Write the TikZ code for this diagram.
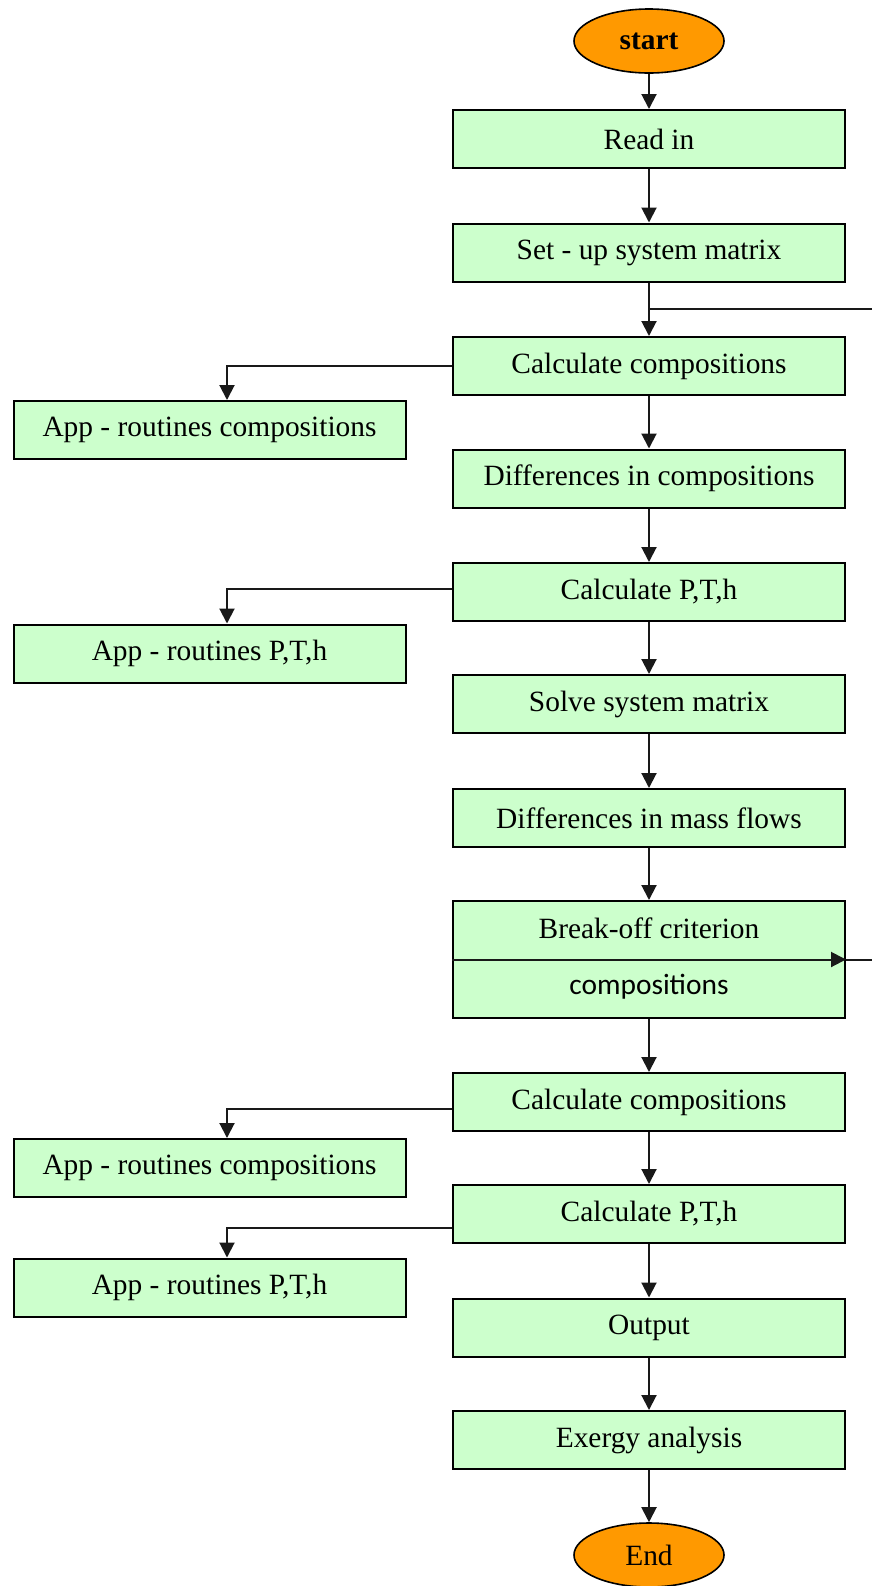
\documentclass[tikz,border=0pt]{standalone}
\usepackage{fontspec}
\setmainfont{Liberation Serif}
\newfontfamily\capfont{Carlito}
\usetikzlibrary{arrows.meta, shapes.geometric, positioning}

\definecolor{boxgreen}{HTML}{CCFFCC}
\definecolor{termorange}{HTML}{FF9900}

\begin{document}
\begin{tikzpicture}[x=0.5pt, y=-0.5pt,
    every node/.style={font=\fontsize{14.7}{17}\selectfont},
    proc/.style={draw=black, fill=boxgreen, line width=1pt, minimum width=196pt, minimum height=29pt, inner sep=0pt},
    term/.style={draw=black, fill=termorange, ellipse, line width=0.8pt, minimum width=75pt, minimum height=32pt, inner sep=0pt},
    flow/.style={-{Triangle[width=7.5pt, length=7.5pt]}, line width=1pt, draw=black!90},
    plain/.style={line width=1pt, draw=black!90}]
    \useasboundingbox (0,0) rectangle (872,1586);

    % Start and end
    \node[term, font=\fontsize{14.7}{17}\selectfont\bfseries] (start) at (649,41) {start};
    \node[term] (end) at (649,1555) {End};

    % Main column of steps
    \foreach \n/\y/\txt in {rd/139/{Read in}, su/252.5/{Set - up system matrix},
        cc1/366/{Calculate compositions}, dc/478.5/{Differences in compositions},
        cp1/592/{Calculate P,T,h}, sv/704/{Solve system matrix},
        dm/818/{Differences in mass flows}, cc2/1102/{Calculate compositions},
        cp2/1214/{Calculate P,T,h}, out/1327.5/{Output}, ex/1440/{Exergy analysis}} {
        \node[proc] (\n) at (649,\y) {\txt};
    }

    % Break-off box with its two lines of text
    \node[proc, minimum height=58.5pt] (brk) at (649,959.5) {};
    \node (brkA) at ([yshift=15.5pt]brk.center) {Break-off criterion};
    \node (brkB) at ([yshift=-13.5pt]brk.center) {\capfont compositions};

    % Side column of app routines
    \foreach \n/\y/\txt in {ap1/430/{App - routines compositions}, ap2/653.5/{App - routines P,T,h},
        ap3/1168/{App - routines compositions}, ap4/1287.5/{App - routines P,T,h}} {
        \node[proc] (\n) at (209.5,\y) {\txt};
    }

    % Main flow
    \foreach \s/\t in {start/rd, rd/su, su/cc1, cc1/dc, dc/cp1, cp1/sv, sv/dm, dm/brk,
        brk/cc2, cc2/cp2, cp2/out, out/ex, ex/end} {
        \draw[flow] (\s) -- (\t);
    }

    % Calls to the app routines
    \draw[flow] (cc1.west) -| ([xshift=8.75pt]ap1.north);
    \draw[flow] ([yshift=1.5pt]cp1.west) -| ([xshift=8.75pt]ap2.north);
    \draw[flow] ([yshift=-3.5pt]cc2.west) -| ([xshift=8.75pt]ap3.north);
    \draw[flow] ([yshift=-7pt]cp2.west) -| ([xshift=8.75pt]ap4.north);

    % Iteration loop
    \coordinate (loopIn) at (872,309);
    \coordinate (loopOut) at (872,959.5);
    \draw[plain] (loopIn) -- (loopIn -| su.south);
    \draw[flow] (brk.west) -- (brk.east);
    \draw[plain] (brk.east) -- (loopOut);
\end{tikzpicture}
\end{document}
